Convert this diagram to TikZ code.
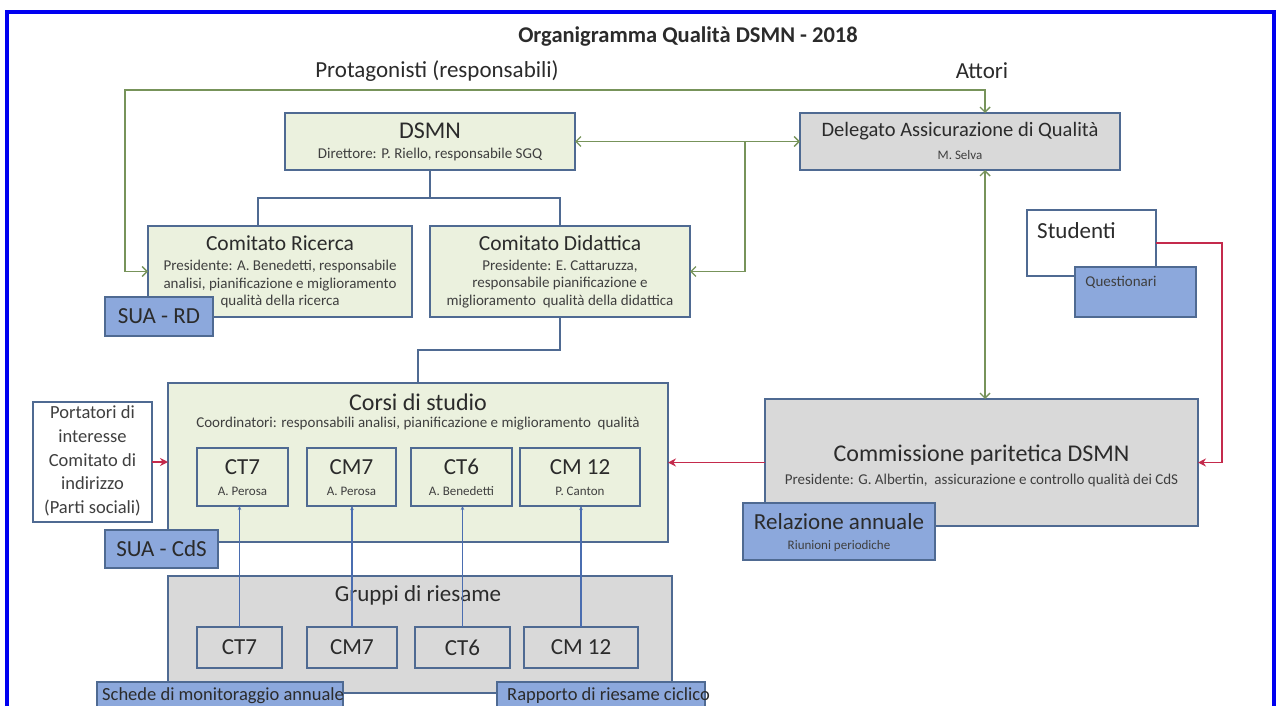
\documentclass[tikz,border=0pt]{standalone}
\usepackage{fontspec}
\setmainfont{Carlito}
\usetikzlibrary{arrows.meta}
\definecolor{gfill}{HTML}{EBF1DE}
\definecolor{grayfill}{HTML}{D9D9D9}
\definecolor{bfill}{HTML}{8CA8DC}
\definecolor{bord}{HTML}{4F6A92}
\definecolor{gline}{HTML}{77935A}
\definecolor{rline}{HTML}{C42A4C}
\definecolor{bline}{HTML}{4A6DB0}
\definecolor{framecol}{HTML}{0000F0}
\definecolor{txtcol}{HTML}{2B2B2B}
\definecolor{stxt}{HTML}{3F3F3F}
\newcommand\fTitle{\fontsize{22.5}{26}\bfseries\selectfont}
\newcommand\fBig{\fontsize{23}{27}\selectfont}
\newcommand\fHuge{\fontsize{24}{28}\selectfont}
\newcommand\fMid{\fontsize{21.5}{25}\selectfont}
\newcommand\fDel{\fontsize{20.5}{24}\selectfont}
\newcommand\fSm{\fontsize{15}{17.5}\selectfont}
\newcommand\fXs{\fontsize{13}{15}\selectfont}
\newcommand\fPort{\fontsize{18.5}{23.7}\selectfont}
\newcommand\fDoc{\fontsize{18.5}{22}\selectfont}
\begin{document}
\begin{tikzpicture}[x=1pt,y=-1pt,
  box/.style={draw=bord, line width=1.3pt, inner sep=0pt, outer sep=0pt},
  gbox/.style={box, fill=gfill},
  graybox/.style={box, fill=grayfill},
  bbox/.style={box, fill=bfill},
  wbox/.style={box, fill=white},
  T/.style={inner sep=0pt, text=txtcol, align=center},
  S/.style={inner sep=0pt, text=stxt, align=center},
  gar/.style={draw=gline, line width=1.4pt, arrows={Straight Barb[length=5pt,width=10pt]-Straight Barb[length=5pt,width=10pt]}},
  garr/.style={draw=gline, line width=1.4pt, -{Straight Barb[length=5pt,width=10pt]}},
  rar/.style={draw=rline, line width=1.4pt, -{Stealth[length=8pt,width=8pt]}},
  bar/.style={draw=bline, line width=1.1pt, -{Stealth[length=4pt,width=3.5pt]}},
  tree/.style={draw=bord, line width=1.3pt}]
\useasboundingbox (0,0) rectangle (1277,706);
\clip (0,0) rectangle (1277,706);
\fill[white] (0,0) rectangle (1277,706);
% frame
\draw[framecol, line width=4pt] (7,730) -- (7,12) -- (1274,12) -- (1274,730);

% main boxes
\node[gbox, minimum width=290, minimum height=57] (dsmn) at (430,141.5) {};
\node[graybox, minimum width=320, minimum height=57] (del) at (960,141.5) {};
\node[gbox, minimum width=264, minimum height=91] (ric) at (280,271.5) {};
\node[gbox, minimum width=260, minimum height=91] (did) at (560,271.5) {};
\node[wbox, minimum width=129, minimum height=66] (stu) at (1091.5,243) {};
\node[gbox, minimum width=500, minimum height=159] (corsi) at (418,462.5) {};
\node[wbox, minimum width=119, minimum height=120] (port) at (92.5,462) {};
\node[graybox, minimum width=433, minimum height=127] (com) at (981.5,462.5) {};
\node[graybox, minimum width=504, minimum height=117] (grp) at (420,634.5) {};

% inner boxes corsi
\node[gbox, minimum width=91, minimum height=58] (c1) at (242.5,477) {};
\node[gbox, minimum width=89, minimum height=58] (c2) at (351.5,477) {};
\node[gbox, minimum width=101, minimum height=58] (c3) at (461.5,477) {};
\node[gbox, minimum width=120, minimum height=58] (c4) at (580,477) {};
% inner boxes gruppi
\node[graybox, minimum width=85, minimum height=41] (g1) at (239.5,647.5) {};
\node[graybox, minimum width=90, minimum height=41] (g2) at (352,647.5) {};
\node[graybox, minimum width=95, minimum height=41] (g3) at (462.5,647.5) {};
\node[graybox, minimum width=114, minimum height=41] (g4) at (581,647.5) {};

% overlay document boxes
\node[bbox, minimum width=108, minimum height=39] (suard) at (159,316.5) {};
\node[bbox, minimum width=121, minimum height=50] (quest) at (1135.5,292) {};
\node[bbox, minimum width=113, minimum height=38] (suacds) at (161.5,549) {};
\node[bbox, minimum width=192, minimum height=57] (rel) at (839,531.5) {};
\node[bbox, minimum width=246, minimum height=40] (sched) at (220,702) {};
\node[bbox, minimum width=208, minimum height=40] (rapp) at (601,702) {};

% texts
\node[T, font=\fTitle] (title) at (688,37) {Organigramma Qualità DSMN - 2018};
\node[T, font=\fBig] (prot) at (437,71) {Protagonisti (responsabili)};
\node[T, font=\fBig] (att) at (982,71) {Attori};

\node[T, font=\fHuge] (dsmnT) at (430,131) {DSMN};
\node[S, font=\fSm] (dsmnS) at (430,155) {Direttore: P. Riello, responsabile SGQ};
\node[T, font=\fDel] (delT) at (960,131) {Delegato Assicurazione di Qualità};
\node[S, font=\fXs] (delS) at (960,155) {M. Selva};

\node[T, font=\fMid] (ricT) at (280,243) {Comitato Ricerca};
\node[S, font=\fSm] (ricS) at (280,284) {Presidente: A. Benedetti, responsabile\\analisi, pianificazione e miglioramento\\qualità della ricerca};
\node[T, font=\fMid] (didT) at (560,243) {Comitato Didattica};
\node[S, font=\fSm] (didS) at (560,284) {Presidente: E. Cattaruzza,\\responsabile pianificazione e\\miglioramento\ \ qualità della didattica};

\node[T, font=\fBig, anchor=west] (stuT) at (1037,231) {Studenti};
\node[S, font=\fSm] (questT) at (1121,282) {Questionari};

\node[T, font=\fHuge] (corsiT) at (418,402) {Corsi di studio};
\node[S, font=\fSm] (corsiS) at (418,424) {Coordinatori: responsabili analisi, pianificazione e miglioramento\ \ qualità};
\node[T, font=\fBig] (c1T) at (c1.center |- 0,467) {CT7};
\node[S, font=\fXs] (c1S) at (c1.center |- 0,491) {A. Perosa};
\node[T, font=\fBig] (c2T) at (c2.center |- 0,467) {CM7};
\node[S, font=\fXs] (c2S) at (c2.center |- 0,491) {A. Perosa};
\node[T, font=\fBig] (c3T) at (c3.center |- 0,467) {CT6};
\node[S, font=\fXs] (c3S) at (c3.center |- 0,491) {A. Benedetti};
\node[T, font=\fBig] (c4T) at (c4.center |- 0,467) {CM 12};
\node[S, font=\fXs] (c4S) at (c4.center |- 0,491) {P. Canton};

\node[S, font=\fPort] (portT) at (92.5,461) {Portatori di\\interesse\\Comitato di\\indirizzo\\(Parti sociali)};

\node[T, font=\fHuge] (comT) at (981.5,455) {Commissione paritetica DSMN};
\node[S, font=\fSm] (comS) at (981.5,480) {Presidente: G. Albertin,\ \ assicurazione e controllo qualità dei CdS};

\node[T, font=\fBig] (relT) at (839,522) {Relazione annuale};
\node[S, font=\fXs] (relS) at (839,546) {Riunioni periodiche};

\node[T, font=\fBig] (suardT) at (159,316) {SUA - RD};
\node[T, font=\fBig] (suacdsT) at (161.5,549) {SUA - CdS};

\node[T, font=\fBig] (grpT) at (418,595) {Gruppi di riesame};
\node[T, font=\fBig] (g1T) at (g1) {CT7};
\node[T, font=\fBig] (g2T) at (g2) {CM7};
\node[T, font=\fBig] (g3T) at (g3) {CT6};
\node[T, font=\fBig] (g4T) at (g4) {CM 12};

\node[T, font=\fDoc, anchor=west] (schedT) at (102,696) {Schede di monitoraggio annuale};
\node[T, font=\fDoc, anchor=west] (rappT) at (507,696) {Rapporto di riesame ciclico};

% tree connectors
\coordinate (jl) at (258,198);
\coordinate (jr) at (560,198);
\draw[tree] (dsmn.south) -- (dsmn.south |- jl);
\draw[tree] (jl |- ric.north) -- (jl) -- (jr) -- (jr |- did.north);
\coordinate (j2) at (560,350);
\draw[tree] (did.south -| j2) -- (j2) -| (corsi.north);

% green connectors
\coordinate (tl) at (125,90);
\coordinate (tr) at (985,90);
\draw[gar] (ric.west) -| (tl) -- (tr) -- (tr |- del.north);
\draw[gar] (dsmn.east) -- (del.west);
\coordinate (br) at (745,141.5);
\draw[garr] (br) |- (did.east);
\draw[gar] (del.south -| tr) -- (com.north -| tr);

% red connectors
\draw[rar] (port.east) -- (corsi.west |- port.east);
\draw[rar] (com.west) -- (corsi.east |- com.west);
\coordinate (rc) at (1222,243);
\draw[rar] (stu.east) -- (rc) |- (com.east);

% blue connectors
\draw[bar] (g1.north) -- (g1.north |- c1.south);
\draw[bar] (g2.north) -- (g2.north |- c2.south);
\draw[bar] (g3.north) -- (g3.north |- c3.south);
\draw[bar] (g4.north) -- (g4.north |- c4.south);
\end{tikzpicture}
\end{document}
